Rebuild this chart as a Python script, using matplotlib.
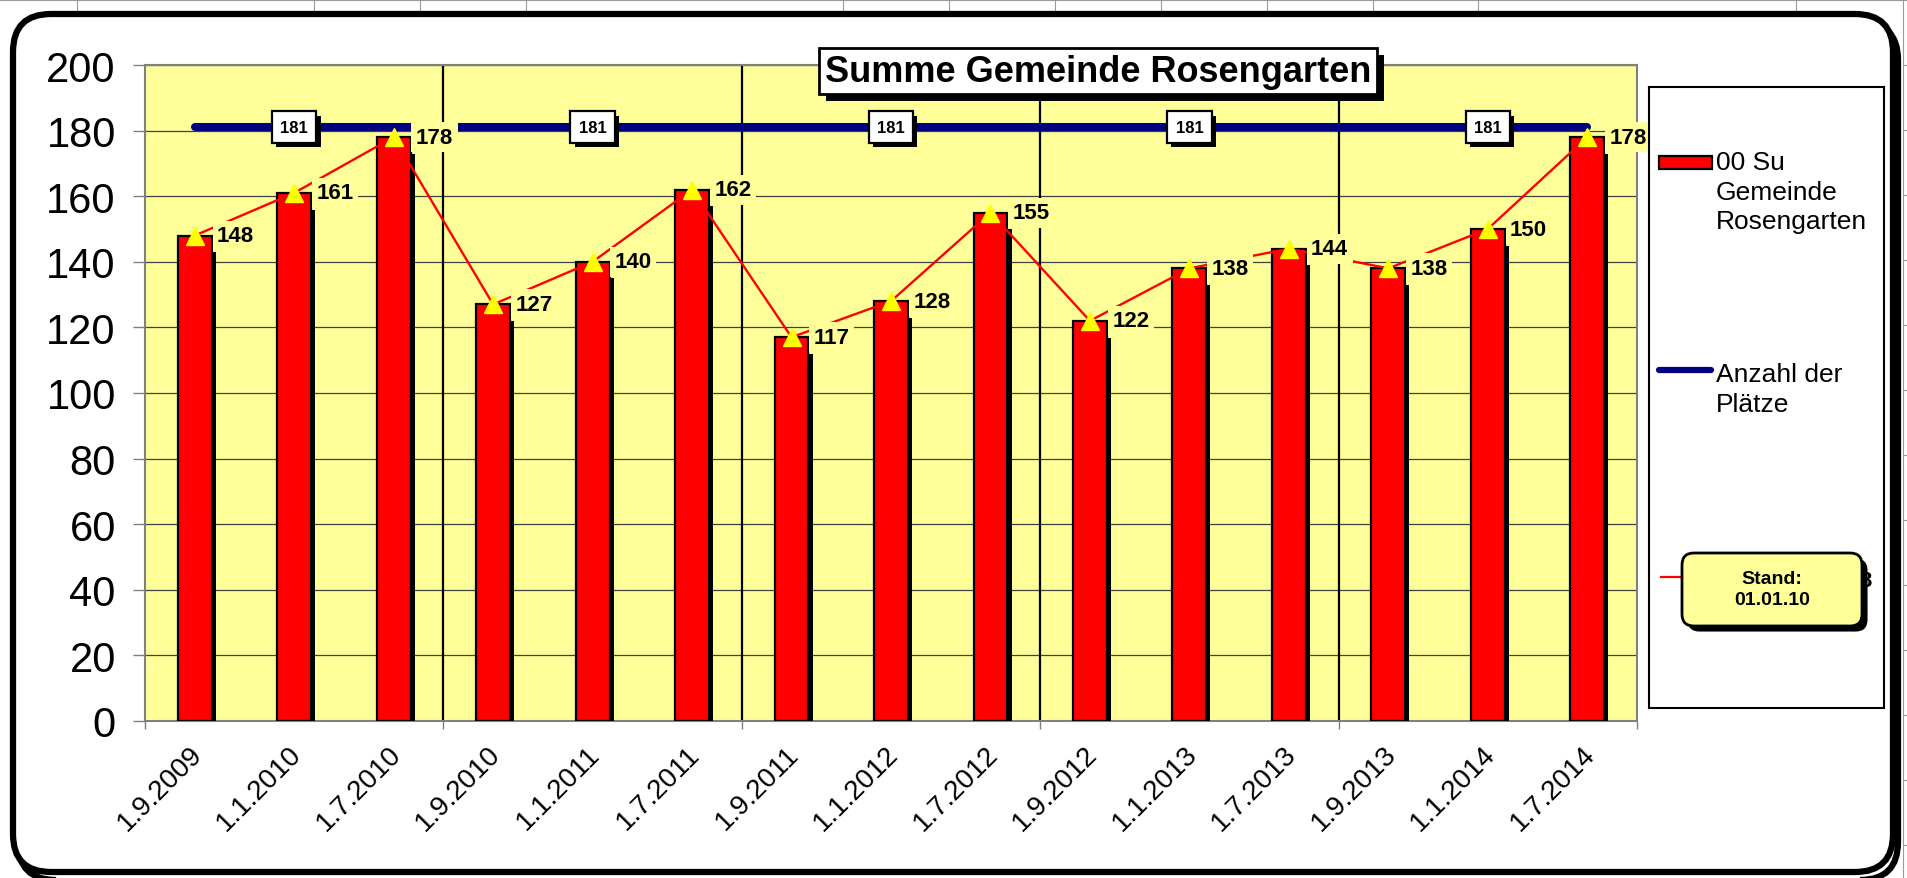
import matplotlib
matplotlib.use('Agg')
from matplotlib import pyplot as plt
import matplotlib.patheffects as pe
import matplotlib.transforms as mtransforms
from matplotlib.patches import FancyBboxPatch, Rectangle
from matplotlib.lines import Line2D
import numpy as np

plt.rcParams['font.family'] = ['Liberation Sans', 'DejaVu Sans']

dates = ['1.9.2009', '1.1.2010', '1.7.2010', '1.9.2010', '1.1.2011', '1.7.2011',
         '1.9.2011', '1.1.2012', '1.7.2012', '1.9.2012', '1.1.2013', '1.7.2013',
         '1.9.2013', '1.1.2014', '1.7.2014']
kinder = [148, 161, 178, 127, 140, 162, 117, 128, 155, 122, 138, 144, 138, 150, 178]
plaetze = [181] * 15
group = 3  # one Kindergartenjahr = 3 Stichtage
y_ticks = list(range(0, 201, 20))

title = 'Summe Gemeinde Rosengarten'
leg_bar = '00 Su\nGemeinde\nRosengarten'
leg_line = 'Anzahl der\nPlätze'
stand = 'Stand:\n01.01.10'

YELLOW = '#FFFF99'
NAVY = '#000080'

W, H = 1908, 879
fig = plt.figure(figsize=(W / 100, H / 100), dpi=100)
px = mtransforms.IdentityTransform()


def fx(p):
    return p / W


def fy(p):
    return 1 - p / H


def shadow(dx, dy):
    return [pe.SimplePatchShadow(offset=(dx, dy), shadow_rgbFace='black', alpha=1), pe.Normal()]


# spreadsheet cell lines behind the chart object
for c in [77, 314, 420, 526, 843, 949, 1055, 1161, 1267, 1373, 1478, 1796]:
    fig.add_artist(Line2D([c, c], [H, H - 14], transform=px, color='#999999', lw=0.8, zorder=-5))
fig.add_artist(Line2D([0, W], [H - 1, H - 1], transform=px, color='#999999', lw=0.8, zorder=-5))
fig.add_artist(Line2D([1903, 1903], [0, H], transform=px, color='#999999', lw=0.8, zorder=-5))
for r in range(66, H, 65):
    fig.add_artist(Line2D([1903, W], [H - r, H - r], transform=px, color='#999999', lw=0.8, zorder=-5))

# rounded chart frame with shadow
frame_shadow = FancyBboxPatch((18, -2), 1880, 858, boxstyle='round,pad=0,rounding_size=38',
                              transform=px, fc='none', ec='black', lw=4.5, zorder=-4)
frame = FancyBboxPatch((13, 6), 1880, 858, boxstyle='round,pad=0,rounding_size=38',
                       transform=px, fc='white', ec='black', lw=4.5, zorder=-3)
fig.add_artist(frame_shadow)
fig.add_artist(frame)

ax = fig.add_axes([fx(145), fy(722), fx(1637 - 145), (722 - 66) / H])
ax.set_facecolor(YELLOW)
x = np.arange(len(dates))
ax.set_xlim(-0.5, len(dates) - 0.5)
ax.set_ylim(0, 200)

for s in ax.spines.values():
    s.set_color('#808080')
    s.set_linewidth(1.5)

ax.set_yticks(y_ticks)
ax.set_yticklabels([str(v) for v in y_ticks])
ax.tick_params(axis='y', direction='out', length=9, width=1, color='#808080',
               labelsize=30, pad=12)
ax.grid(axis='y', color='#404040', lw=0.9, zorder=0)
ax.set_axisbelow(True)

bounds = np.arange(-0.5, len(dates), group)
ax.set_xticks(bounds)
ax.set_xticklabels([''] * len(bounds))
ax.set_xticks(x, minor=True)
ax.set_xticklabels(dates, minor=True, rotation=45, ha='right', rotation_mode='anchor')
ax.tick_params(axis='x', which='major', direction='out', length=6, width=1, color='#808080')
ax.tick_params(axis='x', which='minor', length=0, labelsize=20, pad=14)
shift = mtransforms.ScaledTranslation(-4 / 72, 0, fig.dpi_scale_trans)
for lab in ax.get_xticklabels(minor=True):
    lab.set_transform(lab.get_transform() + shift)

for b in bounds[1:-1]:
    ax.axvline(b, color='black', lw=1.6, zorder=1)

ax.bar(x, kinder, width=0.34, color='#FF0000', edgecolor='black', linewidth=1.6, zorder=3,
       path_effects=shadow(3, -12))

ax.plot(x, plaetze, color=NAVY, lw=5.8, solid_capstyle='round', zorder=4)
ax.plot(x, kinder, color='red', lw=1.7, marker='^', ms=13, mfc='yellow', mec='yellow', zorder=5)

for i, v in zip(x, kinder):
    ax.annotate(str(v), (i, v), xytext=(16, 0), textcoords='offset points', ha='left', va='center',
                fontsize=16, fontweight='bold', zorder=6, annotation_clip=False,
                bbox=dict(boxstyle='square,pad=0.2', fc=YELLOW, ec='none'))

for i in x[1::group]:
    t = ax.annotate(str(plaetze[i]), (i, plaetze[i]), ha='center', va='center', fontsize=12,
                    fontweight='bold', color='black', zorder=8,
                    bbox=dict(boxstyle='square,pad=0.5', fc='white', ec='black', lw=1.6))
    t.get_bbox_patch().set_path_effects(shadow(3, -3))

# legend drawn in its own box, in pixel units
lax = fig.add_axes([fx(1649), fy(709), fx(1884 - 1649), (709 - 88) / H])
lax.set_xlim(1649, 1884)
lax.set_ylim(709, 88)
lax.set_xticks([])
lax.set_yticks([])
for s in lax.spines.values():
    s.set_color('black')
    s.set_linewidth(1.5)

lax.add_patch(Rectangle((1659, 157), 53, 13, fc='#FF0000', ec='black', lw=1.6))
lax.text(1716, 151, leg_bar, ha='left', va='top', fontsize=19, linespacing=1.3)
lax.plot([1659, 1711], [371, 371], color=NAVY, lw=4.5, solid_capstyle='round')
lax.text(1716, 363, leg_line, ha='left', va='top', fontsize=19, linespacing=1.3)
lax.plot([1661, 1704], [578, 578], color='red', lw=1.6)
lax.plot([1690], [578], marker='^', ms=13, color='yellow', ls='none')
lax.text(1873, 582, str(kinder[-1]), ha='right', va='center', fontsize=16, fontweight='bold')

stand_box = FancyBboxPatch((1682, 554), 180, 73, boxstyle='round,pad=0,rounding_size=12',
                           fc=YELLOW, ec='black', lw=2, zorder=6)
stand_box.set_path_effects(shadow(4, -4))
lax.add_patch(stand_box)
lax.text(1772, 590, stand, ha='center', va='center', fontsize=14, fontweight='bold',
         linespacing=1.25, zorder=7)

# title with shadow
tt = fig.text(fx(1098), fy(72), title, ha='center', va='center', fontsize=26, fontweight='bold',
              color='black', zorder=6,
              bbox=dict(boxstyle='square,pad=0.16', fc='white', ec='black', lw=2))
tt.get_bbox_patch().set_path_effects(shadow(5, -5))

fig.savefig('out.png', dpi=100)
plt.close()
